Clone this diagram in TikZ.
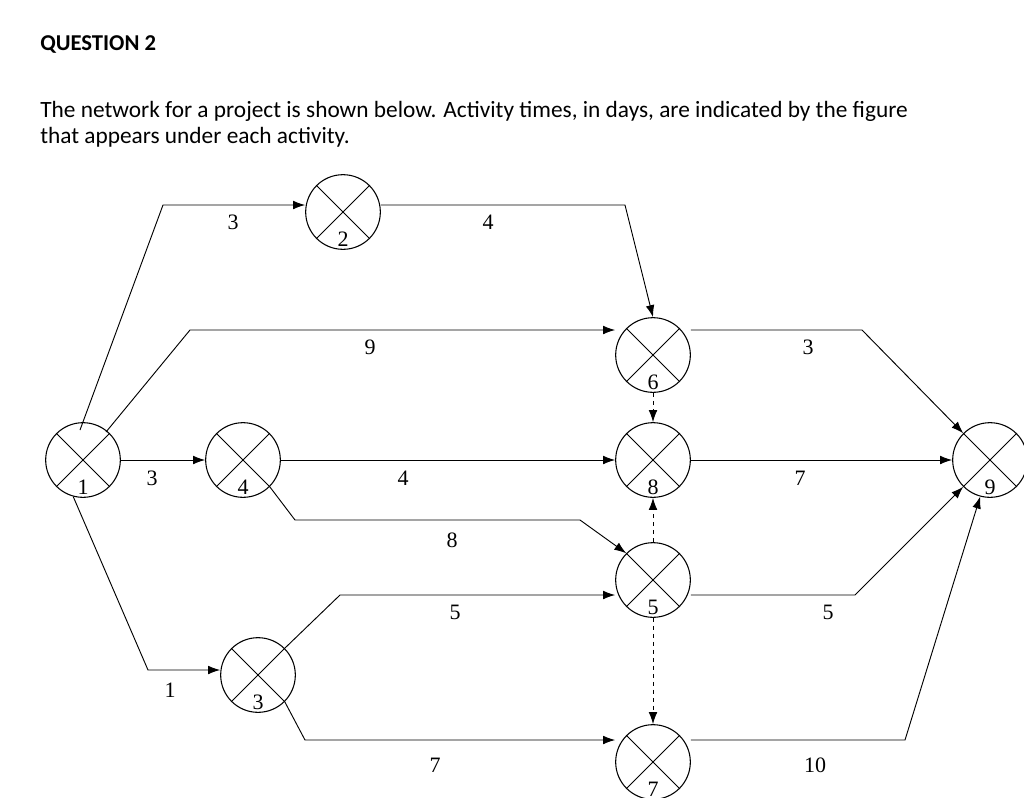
\documentclass[tikz,border=0pt]{standalone}
\usepackage{fontspec}
\setmainfont{Liberation Serif}
\newfontfamily\calfont{Carlito}
\usetikzlibrary{arrows.meta}
\begin{document}
\begin{tikzpicture}[x=0.75pt,y=-0.75pt,
  ev/.style={circle,draw,line width=0.8pt,minimum size=56pt,inner sep=0pt},
  ln/.style={line width=0.7pt},
  ar/.style={ln,-{Latex[length=9pt,width=6.5pt]}},
  dar/.style={ar,dashed},
  lab/.style={font=\fontsize{16.5}{16.5}\selectfont}]
\useasboundingbox (0,0) rectangle (1024,797);
\begin{scope}
\clip (0,0) rectangle (1024,797);
\node[anchor=base west,font=\calfont\bfseries\fontsize{17}{20}\selectfont,inner sep=0pt] (q) at (40,50) {QUESTION 2};
\node[anchor=base west,font=\calfont\fontsize{17.5}{20}\selectfont,inner sep=0pt] (p1) at (40,117) {The network for a project is shown below. Activity times, in days, are indicated by the figure};
\node[anchor=base west,font=\calfont\fontsize{17.5}{20}\selectfont,inner sep=0pt] (p2) at (40,143) {that appears under each activity.};
\foreach \n/\x/\y in {2/343/212,6/653/355,1/83/460,4/243/460,8/653/460,9/990/460,5/653/580,3/258/675,7/653/762}{
  \node[ev] (n\n) at (\x,\y) {};
  \draw[ln] (n\n.45)--(n\n.225) (n\n.135)--(n\n.315);
  \node[lab,fill=white,inner sep=0.5pt] (t\n) at ([yshift=8pt]n\n.south) {\n};
}
\coordinate (a1) at (163,205); \coordinate (a2) at (625,205);
\coordinate (b1) at (190,330); \coordinate (c1) at (295,520); \coordinate (c2) at (580,520);
\coordinate (d1) at (148,670); \coordinate (e1) at (340,595); \coordinate (f1) at (305,740);
\coordinate (g1) at (862,330); \coordinate (h1) at (855,595); \coordinate (i1) at (905,740);
\draw[ar] (80,430)--(a1)--(n2.west |- a1);
\draw[ar] (n2.east |- a2)--(a2)--(n6.north);
\draw[ar] (106,432)--(b1)--(n6.west |- b1);
\draw[ar] (n1.east)--(n4.west);
\draw[ar] (n4.east)--(n8.west);
\draw[ar] (n4.315)--(c1)--(c2)--(n5.135);
\draw[ar] (n1.255)--(d1)--(n3.west |- d1);
\draw[ar] (n3.45)--(e1)--(n5.west |- e1);
\draw[ar] (n3.315)--(f1)--(n7.west |- f1);
\draw[ar] (n6.east |- g1)--(g1)--(n9.135);
\draw[dar] (n6.south)--(n8.north);
\draw[ar] (n8.east)--(n9.west);
\draw[dar] (n5.north)--(n8.south);
\draw[ar] (n5.east |- h1)--(h1)--(n9.225);
\draw[dar] (n5.south)--(n7.north);
\draw[ar] (n7.east |- i1)--(i1)--(n9.255);
\foreach \t/\x/\y [count=\k] in {3/233/222,4/488/222,9/370/347,3/152/478,4/403/478,8/452/540,1/170/690,5/455/612,7/435/765,3/808/347,7/800/478,5/828/612,10/815/765}
  \node[lab] (l\k) at (\x,\y) {\t};
\end{scope}
\end{tikzpicture}
\end{document}
